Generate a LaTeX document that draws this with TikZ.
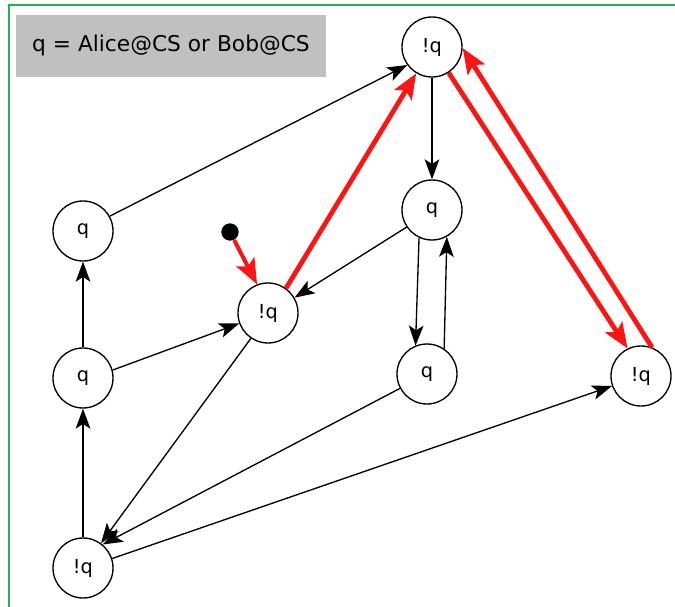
\documentclass[tikz,border=0pt]{standalone}
\usepackage{fontspec}
\setmainfont{DejaVu Sans}
\usetikzlibrary{arrows.meta}
\definecolor{frameg}{RGB}{34,178,86}
\definecolor{boxgray}{RGB}{192,192,192}
\definecolor{redline}{RGB}{255,20,20}
\tikzset{
  state/.style={circle,draw=black,line width=1pt,minimum size=45pt,inner sep=0pt,fill=white,font=\fontsize{14.5}{17}\selectfont},
  blk/.style={draw=black,line width=1pt,-{Stealth[length=15pt,width=11pt,inset=3.5pt]}},
  rda/.style={draw=redline,line width=3.6pt,-{Stealth[length=19pt,width=15pt,inset=4pt]}},
  legend/.style={fill=boxgray,minimum width=232.5pt,minimum height=46.5pt,inner sep=0pt,font=\fontsize{16.3}{19}\selectfont},
}
\begin{document}
\begin{tikzpicture}[x=0.75pt,y=-0.75pt]
\useasboundingbox (0,0) rectangle (675,607);
\fill[white] (0,0) rectangle (675,607);
\draw[frameg,line width=1.6pt] (9,607) -- (9,5) -- (675,5);
\node[legend] (lab) at (171,46) {q = Alice@CS or Bob@CS};
\node[state] (A) at (432,47) {!q};
\node[state] (B) at (432,210) {q};
\node[state] (C) at (83,231) {q};
\node[state] (D) at (268,313) {!q};
\node[state] (E) at (83,378) {q};
\node[state] (F) at (427,374) {q};
\node[state] (G) at (641,376) {!q};
\node[state] (H) at (83,568) {!q};
\node[circle,fill=black,minimum size=13pt,inner sep=0pt] (s) at (230,232) {};
% black edges
\draw[blk] (C.29) -- (A.216);
\draw[blk] (E.90) -- (C.270);
\draw[blk] (E.15) -- (D.200);
\draw[blk] (H.90) -- (E.270);
\draw[blk] (H.18) -- (G.199);
\draw[blk] (D.236) -- (H.54);
\draw[blk] (F.208) -- (H.50);
\draw[blk] (A.270) -- (B.90);
\draw[blk] (B.214) -- (D.30);
\draw[blk] (B.245) -- (F.112);
\draw[blk] (F.56) -- (B.299);
% red edges
\draw[rda] (D.54) -- (A.239);
\draw[rda] (A.303) -- (G.116);
\draw[rda] (G.69) -- (A.358);
\draw[rda,line width=3pt] (s) -- (D.111);
\end{tikzpicture}
\end{document}
